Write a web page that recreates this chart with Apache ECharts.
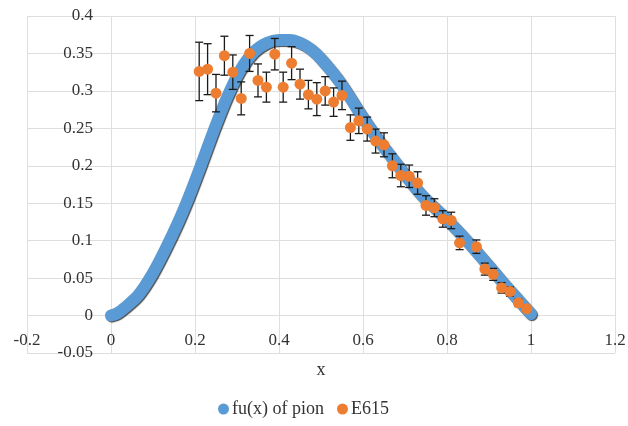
<!DOCTYPE html>
<html>
<head>
<meta charset="utf-8">
<script src="https://cdn.jsdelivr.net/npm/echarts@6/dist/echarts.min.js"></script>
<style>
  html, body { margin: 0; padding: 0; background: #fff; }
  #chart { width: 628px; height: 426px; }
</style>
</head>
<body>
<div id="chart"></div>
<script>
// fu(x) of pion curve
const curveX = [0, 0.015, 0.034, 0.066, 0.098, 0.129, 0.161, 0.185, 0.213, 0.244, 0.276, 0.308, 0.34, 0.371, 0.4, 0.425, 0.451, 0.475, 0.498, 0.546, 0.594, 0.641, 0.689, 0.736, 0.776, 0.8, 0.863, 0.927, 0.963, 1.0];
const curveY = [0, 0.003, 0.011, 0.028, 0.055, 0.088, 0.126, 0.158, 0.199, 0.246, 0.291, 0.328, 0.352, 0.364, 0.368, 0.368, 0.364, 0.356, 0.344, 0.311, 0.269, 0.231, 0.196, 0.163, 0.141, 0.128, 0.09, 0.048, 0.025, 0.002];

// E615 data points + symmetric errors
const e615X = [0.21, 0.23, 0.25, 0.27, 0.29, 0.31, 0.33, 0.35, 0.37, 0.39, 0.41, 0.43, 0.45, 0.47, 0.49, 0.51, 0.53, 0.55, 0.57, 0.59, 0.61, 0.63, 0.65, 0.67, 0.69, 0.71, 0.73, 0.75, 0.77, 0.79, 0.81, 0.83, 0.87, 0.89, 0.91, 0.93, 0.95, 0.97, 0.99];
const e615Y = [0.326, 0.329, 0.297, 0.347, 0.325, 0.29, 0.35, 0.314, 0.305, 0.349, 0.305, 0.337, 0.309, 0.295, 0.289, 0.3, 0.285, 0.294, 0.251, 0.26, 0.249, 0.233, 0.228, 0.2, 0.187, 0.186, 0.177, 0.147, 0.144, 0.129, 0.127, 0.097, 0.092, 0.062, 0.055, 0.037, 0.032, 0.017, 0.009];
const e615Err = [0.039, 0.034, 0.025, 0.026, 0.023, 0.022, 0.024, 0.022, 0.02, 0.021, 0.02, 0.022, 0.02, 0.019, 0.022, 0.019, 0.019, 0.019, 0.017, 0.017, 0.016, 0.016, 0.016, 0.016, 0.015, 0.015, 0.015, 0.013, 0.012, 0.011, 0.011, 0.009, 0.009, 0.008, 0.008, 0.007, 0.006, 0.005, 0.004];

const font = "Liberation Serif";
const blue = "#5b9bd5";
const orange = "#ed7d31";
const labelColor = "#333";

const chart = echarts.init(document.getElementById("chart"));

// axes stay at the grid edges; labels get pulled in to sit next to the zero lines
const option = {
  animation: false,
  backgroundColor: "#fff",
  textStyle: { fontFamily: font },
  grid: { left: 27, right: 13, top: 16, bottom: 73, outerBoundsMode: "none" },
  legend: {
    bottom: 3,
    left: 213,
    icon: "circle",
    itemWidth: 11,
    itemHeight: 11,
    itemGap: 13,
    textStyle: { fontFamily: font, fontSize: 18, color: labelColor, padding: [0, 0, 0, -2] },
    data: [
      { name: "fu(x) of pion", itemStyle: { color: blue } },
      { name: "E615", itemStyle: { color: orange } },
    ],
  },
  xAxis: {
    type: "value",
    min: -0.2,
    max: 1.2,
    interval: 0.2,
    name: "x",
    nameLocation: "middle",
    nameGap: 8,
    nameTextStyle: { fontFamily: font, fontSize: 18, color: labelColor, verticalAlign: "top" },
    axisLine: { show: false, onZero: false },
    axisTick: { show: false },
    axisLabel: {
      fontFamily: font,
      fontSize: 17,
      color: labelColor,
      margin: -21,
      formatter: (v) => String(Math.round(v * 10) / 10),
    },
    splitLine: { lineStyle: { color: "#dedede" } },
  },
  yAxis: {
    type: "value",
    min: -0.05,
    max: 0.4,
    interval: 0.05,
    axisLine: { show: false, onZero: false },
    axisTick: { show: false },
    axisLabel: {
      fontFamily: font,
      fontSize: 17,
      color: labelColor,
      margin: -66,
      formatter: (v) => String(Math.round(v * 100) / 100),
    },
    splitLine: { lineStyle: { color: "#dedede" } },
  },
  series: [
    {
      name: "fu(x) of pion",
      type: "line",
      smooth: 0.3,
      showSymbol: false,
      symbol: "circle",
      itemStyle: { color: blue },
      lineStyle: {
        width: 12,
        color: blue,
        cap: "round",
        join: "round",
        shadowColor: "rgba(30,30,30,0.8)",
        shadowOffsetX: 1,
        shadowOffsetY: 1,
        shadowBlur: 1,
      },
      data: curveX.map((x, i) => [x, curveY[i]]),
      z: 2,
    },
    {
      name: "errbars",
      type: "custom",
      data: e615X.map((x, i) => [x, e615Y[i] - e615Err[i], e615Y[i] + e615Err[i]]),
      renderItem: (params, api) => {
        const lo = api.coord([api.value(0), api.value(1)]);
        const hi = api.coord([api.value(0), api.value(2)]);
        const w = 4;
        const style = { stroke: "#1a1a1a", lineWidth: 1.3 };
        return {
          type: "group",
          children: [
            { type: "line", shape: { x1: lo[0], y1: lo[1], x2: hi[0], y2: hi[1] }, style },
            { type: "line", shape: { x1: lo[0] - w, y1: lo[1], x2: lo[0] + w, y2: lo[1] }, style },
            { type: "line", shape: { x1: hi[0] - w, y1: hi[1], x2: hi[0] + w, y2: hi[1] }, style },
          ],
        };
      },
      z: 3,
      silent: true,
    },
    {
      name: "E615",
      type: "scatter",
      symbol: "circle",
      symbolSize: 11,
      itemStyle: { color: orange, opacity: 1 },
      data: e615X.map((x, i) => [x, e615Y[i]]),
      z: 4,
    },
  ],
};

chart.setOption(option);
</script>
</body>
</html>
